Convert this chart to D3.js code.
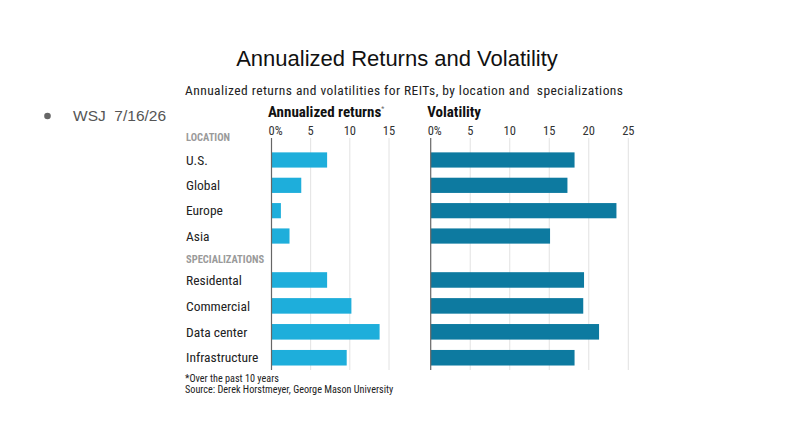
<!DOCTYPE html>
<html>
<head>
<meta charset="utf-8">
<script src="https://cdn.jsdelivr.net/npm/d3@7"></script>
<style>
  body { margin: 0; background: #fff; }
  .narrow { font-family: "Liberation Sans Narrow", "Roboto Condensed", "Roboto", sans-serif; }
  text { white-space: pre; }
</style>
</head>
<body>
<script>
const w = 794, h = 448;

// data
const locations = ['U.S.', 'Global', 'Europe', 'Asia'];
const locReturns = [7.1, 3.8, 1.2, 2.3];
const locVolatility = [18.2, 17.3, 23.5, 15.1];

const specializations = ['Residental', 'Commercial', 'Data center', 'Infrastructure'];
const specReturns = [7.1, 10.2, 13.8, 9.6];
const specVolatility = [19.4, 19.3, 21.3, 18.2];

const returnTicks = [0, 5, 10, 15];
const volTicks = [0, 5, 10, 15, 20, 25];

const leftColor = '#1eaedb', rightColor = '#0d7aa0';

const svg = d3.select('body').append('svg')
  .attr('width', w)
  .attr('height', h);

// slide title + bullet
svg.append('text')
  .attr('x', 397).attr('y', 66)
  .attr('text-anchor', 'middle')
  .attr('font-family', 'Liberation Sans, Arial, sans-serif')
  .attr('font-size', 22)
  .attr('fill', '#111')
  .text('Annualized Returns and Volatility');

svg.append('circle')
  .attr('cx', 47.5).attr('cy', 116).attr('r', 3.3)
  .attr('fill', '#666');

svg.append('text')
  .attr('x', 73).attr('y', 121)
  .attr('font-family', 'Liberation Sans, Arial, sans-serif')
  .attr('font-size', 15.5)
  .attr('fill', '#555')
  .text('WSJ  7/16/26');

// chart subtitle
svg.append('text')
  .attr('class', 'narrow')
  .attr('x', 185).attr('y', 95)
  .attr('font-size', 13.5)
  .attr('fill', '#222')
  .attr('textLength', 438)
  .text('Annualized returns and volatilities for REITs, by location and  specializations');

// scales
const xRet = d3.scaleLinear().domain([0, 15]).range([271.5, 389]);
const xVol = d3.scaleLinear().domain([0, 25]).range([430.7, 628.3]);

const yLoc = d3.scaleBand().domain(locations).range([147.3, 248.7])
  .paddingInner(0.4).paddingOuter(0.2);
const ySpec = d3.scaleBand().domain(specializations).range([267, 370.7])
  .paddingInner(0.4).paddingOuter(0.2);

const gridTop = 138, gridBottom = 370;

// panel builder
const panel = (x, ticks, heading, star, locVals, specVals, color) => {
  const g = svg.append('g');

  g.selectAll('line.grid')
    .data(ticks.slice(1))
    .enter()
    .append('line')
    .attr('class', 'grid')
    .attr('x1', (d) => x(d)).attr('x2', (d) => x(d))
    .attr('y1', gridTop).attr('y2', gridBottom)
    .attr('stroke', '#e2e2e2')
    .attr('stroke-width', 1);

  g.selectAll('text.tick')
    .data(ticks)
    .enter()
    .append('text')
    .attr('class', 'tick narrow')
    .attr('x', (d) => d === 0 ? x(d) - 3 : x(d))
    .attr('y', 135)
    .attr('text-anchor', (d) => d === 0 ? 'start' : 'middle')
    .attr('font-size', 12.5)
    .attr('fill', '#333')
    .text((d) => d === 0 ? '0%' : d);

  const head = g.append('text')
    .attr('class', 'narrow')
    .attr('x', x(0) - 3.5).attr('y', 117)
    .attr('font-size', 15)
    .attr('font-weight', 'bold')
    .attr('fill', '#111')
    .text(heading);
  if (star) {
    head.append('tspan')
      .attr('dy', -6)
      .attr('font-size', 7)
      .attr('font-weight', 'normal')
      .attr('fill', '#666')
      .text('*');
  }

  g.selectAll('rect.loc')
    .data(locVals)
    .enter()
    .append('rect')
    .attr('class', 'loc')
    .attr('x', x(0))
    .attr('y', (d, i) => yLoc(locations[i]))
    .attr('width', (d) => x(d) - x(0))
    .attr('height', yLoc.bandwidth())
    .attr('fill', color);

  g.selectAll('rect.spec')
    .data(specVals)
    .enter()
    .append('rect')
    .attr('class', 'spec')
    .attr('x', x(0))
    .attr('y', (d, i) => ySpec(specializations[i]))
    .attr('width', (d) => x(d) - x(0))
    .attr('height', ySpec.bandwidth())
    .attr('fill', color);

  // zero axis
  g.append('line')
    .attr('x1', x(0)).attr('x2', x(0))
    .attr('y1', gridTop).attr('y2', gridBottom)
    .attr('stroke', '#666')
    .attr('stroke-width', 1.2);
};

panel(xRet, returnTicks, 'Annualized returns', true, locReturns, specReturns, leftColor);
panel(xVol, volTicks, 'Volatility', false, locVolatility, specVolatility, rightColor);

// section headings
svg.append('text')
  .attr('class', 'narrow')
  .attr('x', 186).attr('y', 141)
  .attr('font-size', 10.5)
  .attr('font-weight', 'bold')
  .attr('fill', '#9a9a9a')
  .text('LOCATION');

svg.append('text')
  .attr('class', 'narrow')
  .attr('x', 186).attr('y', 263)
  .attr('font-size', 10.5)
  .attr('font-weight', 'bold')
  .attr('fill', '#9a9a9a')
  .text('SPECIALIZATIONS');

// category labels
svg.selectAll('text.loclabel')
  .data(locations)
  .enter()
  .append('text')
  .attr('class', 'loclabel narrow')
  .attr('x', 186)
  .attr('y', (d) => yLoc(d) + yLoc.bandwidth() / 2)
  .attr('dy', '.35em')
  .attr('font-size', 13.5)
  .attr('fill', '#222')
  .text((d) => d);

svg.selectAll('text.speclabel')
  .data(specializations)
  .enter()
  .append('text')
  .attr('class', 'speclabel narrow')
  .attr('x', 186)
  .attr('y', (d) => ySpec(d) + ySpec.bandwidth() / 2)
  .attr('dy', '.35em')
  .attr('font-size', 13.5)
  .attr('fill', '#222')
  .text((d) => d);

// footnotes
svg.append('text')
  .attr('class', 'narrow')
  .attr('x', 185).attr('y', 382)
  .attr('font-size', 10.2)
  .attr('fill', '#222')
  .text('*Over the past 10 years');

svg.append('text')
  .attr('class', 'narrow')
  .attr('x', 185).attr('y', 393)
  .attr('font-size', 10.2)
  .attr('fill', '#222')
  .text('Source: Derek Horstmeyer, George Mason University');
</script>
</body>
</html>
